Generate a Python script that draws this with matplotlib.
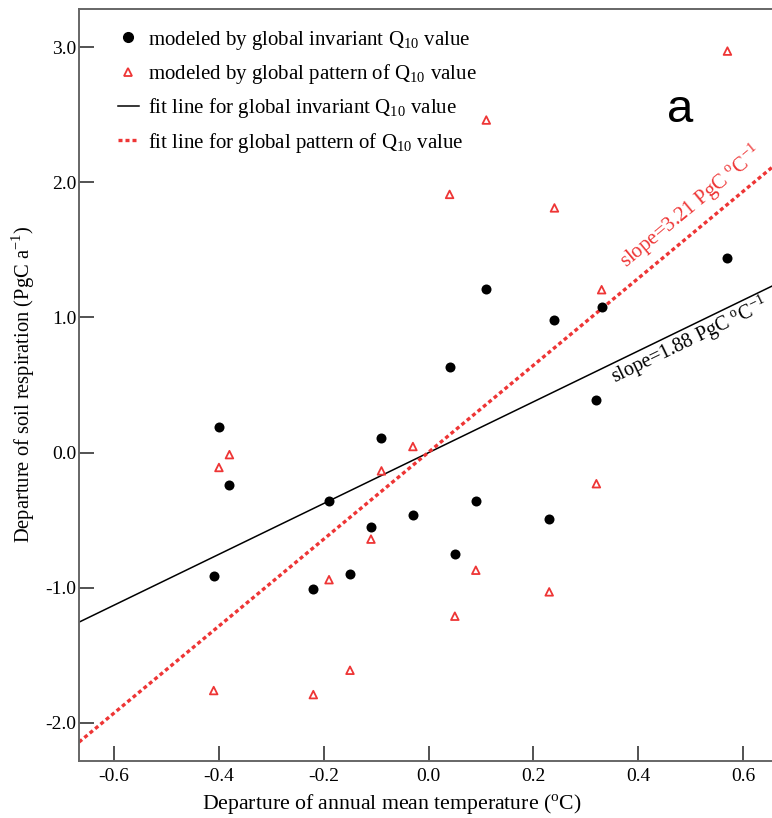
"""
Departure of soil respiration vs. departure of annual mean temperature,
two Q10 set-ups with their linear fits.
"""
import numpy as np
import matplotlib
matplotlib.use("Agg")
import matplotlib.pyplot as plt
from matplotlib.lines import Line2D
from matplotlib.ticker import FormatStrFormatter

plt.rcParams['font.family'] = ['Liberation Serif', 'DejaVu Serif']
plt.rcParams['mathtext.fontset'] = 'custom'
plt.rcParams['mathtext.rm'] = 'Liberation Serif'
plt.rcParams['axes.unicode_minus'] = False

# Data
dT = [-0.41, -0.40, -0.38, -0.22, -0.19, -0.15, -0.11, -0.09, -0.03,
      0.04, 0.05, 0.09, 0.11, 0.23, 0.24, 0.32, 0.33, 0.57]
rs_invariant = [-0.91, 0.19, -0.24, -1.01, -0.36, -0.90, -0.55, 0.11, -0.46,
                0.63, -0.75, -0.36, 1.21, -0.49, 0.98, 0.39, 1.08, 1.44]
rs_pattern = [-1.76, -0.11, -0.015, -1.79, -0.94, -1.61, -0.64, -0.135, 0.045,
              1.91, -1.21, -0.87, 2.46, -1.03, 1.81, -0.23, 1.205, 2.97]
# slopes as printed on the figure
slope_labels = ["1.88", "3.21"]

x_ticks = [-0.6, -0.4, -0.2, 0.0, 0.2, 0.4, 0.6]
y_ticks = [-2.0, -1.0, 0.0, 1.0, 2.0, 3.0]
xlim = (-0.667, 0.655)
ylim = (-2.281, 3.285)

red = "#ee3535"

dT = np.array(dT)
rs_invariant = np.array(rs_invariant)
rs_pattern = np.array(rs_pattern)

# linear fits
k1, b1 = np.polyfit(dT, rs_invariant, 1)
k2, b2 = np.polyfit(dT, rs_pattern, 1)

fig = plt.figure(figsize=(7.72, 8.18), dpi=100)
ax = fig.add_axes([0.1023, 0.0697, 0.8977, 0.9199])

xx = np.array(xlim)
ax.plot(xx, k1 * xx + b1, color="black", lw=1.1, zorder=2)
ax.plot(xx, k2 * xx + b2, color=red, lw=2.4, ls=(0, (1.2, 0.9)), zorder=2)

ax.scatter(dT, rs_invariant, s=52, color="black", zorder=3, linewidths=0)
ax.scatter(dT, rs_pattern, s=30, marker="^", facecolors="none",
           edgecolors=red, linewidths=1.3, zorder=3)

ax.set_xlim(*xlim)
ax.set_ylim(*ylim)
ax.set_xticks(x_ticks)
ax.set_yticks(y_ticks)
ax.yaxis.set_major_formatter(FormatStrFormatter('%.1f'))
ax.xaxis.set_major_formatter(FormatStrFormatter('%.1f'))
ax.tick_params(direction="in", length=10.5, width=1.3, color="#444444",
               labelsize=14)
ax.tick_params(axis="y", pad=2)
ax.tick_params(axis="x", pad=5)
for side in ["left", "bottom", "top"]:
    ax.spines[side].set_color("#666666")
    ax.spines[side].set_linewidth(1.4)
ax.spines["right"].set_visible(False)

ax.set_xlabel(r"Departure of annual mean temperature ($^{\mathregular{o}}$C)",
              fontsize=15.7)
ax.xaxis.set_label_coords(0.452, -0.042)
ax.set_ylabel(r"Departure of soil respiration (PgC a$^{\mathregular{-1}}$)",
              fontsize=14.8, labelpad=6)

# slope annotations along the fit lines
ax.text(0.497, 0.83,
        r"slope=%s PgC $^{\mathregular{o}}$C$^{\mathregular{-1}}$" % slope_labels[0],
        fontsize=14.5, color="black", ha="center", va="center",
        rotation=np.degrees(np.arctan(k1)), rotation_mode="anchor",
        transform_rotates_text=True)
ax.text(0.50, 1.82,
        r"slope=%s PgC $^{\mathregular{o}}$C$^{\mathregular{-1}}$" % slope_labels[1],
        fontsize=15, color=red, ha="center", va="center",
        rotation=np.degrees(np.arctan(k2)), rotation_mode="anchor",
        transform_rotates_text=True)

ax.text(0.867, 0.865, "a", transform=ax.transAxes, fontsize=34,
        family="Liberation Sans", ha="center", va="center")

handles = [
    Line2D([], [], ls="none", marker="o", ms=7, color="black"),
    Line2D([], [], ls="none", marker="^", ms=6, mfc="none", mec=red, mew=1.3),
    Line2D([], [], color="black", lw=1.1),
    Line2D([], [], color=red, lw=2.4, ls=(0, (1.2, 0.9))),
]
labels = [
    r"modeled by global invariant Q$_{\mathregular{10}}$ value",
    r"modeled by global pattern of Q$_{\mathregular{10}}$ value",
    r"fit line for global invariant Q$_{\mathregular{10}}$ value",
    r"fit line for global pattern of Q$_{\mathregular{10}}$ value",
]
ax.legend(handles, labels, loc="upper left", bbox_to_anchor=(0.038, 0.99),
          frameon=False, fontsize=15, handlelength=1.0, handletextpad=0.45,
          labelspacing=0.5, borderaxespad=0.2)

plt.savefig("out.png", dpi=100)
